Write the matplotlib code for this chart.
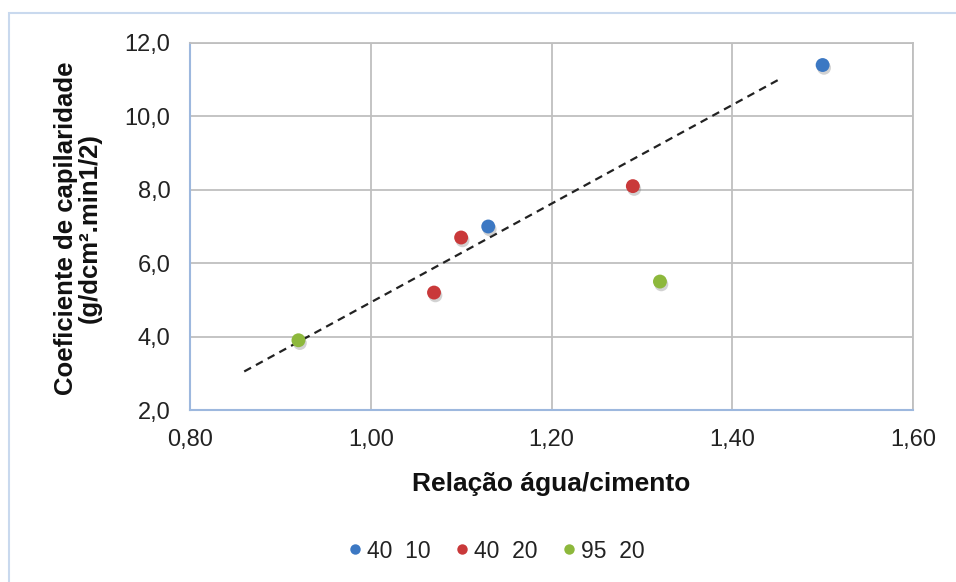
import matplotlib
matplotlib.use("Agg")
import matplotlib.pyplot as plt
import matplotlib.patheffects as pe
from matplotlib.patches import Rectangle
from matplotlib.lines import Line2D

plt.rcParams['font.family'] = ['Liberation Sans', 'DejaVu Sans']

# Water/cement ratio vs. capillarity coefficient, by mix series
series_names = ["40  10", "40  20", "95  20"]
x_40_10 = [1.13, 1.50]
y_40_10 = [7.0, 11.4]
x_40_20 = [1.07, 1.10, 1.29]
y_40_20 = [5.2, 6.7, 8.1]
x_95_20 = [0.92, 1.32]
y_95_20 = [3.9, 5.5]
colors = ["#3C78C3", "#C9393A", "#8DB83C"]

# Linear trend line endpoints
trend_x = [0.86, 1.455]
trend_y = [3.05, 11.05]

x_ticks = [0.80, 1.00, 1.20, 1.40, 1.60]
x_tick_labels = ["0,80", "1,00", "1,20", "1,40", "1,60"]
y_ticks = [2.0, 4.0, 6.0, 8.0, 10.0, 12.0]
y_tick_labels = ["2,0", "4,0", "6,0", "8,0", "10,0", "12,0"]

fig = plt.figure(figsize=(9.56, 5.82), dpi=100)
ax = fig.add_axes([190 / 956, 1 - 410 / 582, 723 / 956, 367 / 582])

# Chart-area border
fig.patches.append(Rectangle((9 / 956, -0.2), 1.2, 1.2 - 13 / 582,
                             transform=fig.transFigure, fill=False,
                             edgecolor="#C9D9EE", linewidth=1.5, zorder=0))

ax.set_xlim(0.80, 1.60)
ax.set_ylim(2.0, 12.0)
ax.set_xticks(x_ticks)
ax.set_xticklabels(x_tick_labels)
ax.set_yticks(y_ticks)
ax.set_yticklabels(y_tick_labels)
ax.tick_params(length=0, labelsize=17, colors="#222222", pad=14)
ax.grid(True, color="#BFBFBF", linewidth=1.3)
ax.set_axisbelow(True)

for side in ("top", "right"):
    ax.spines[side].set_color("#BFBFBF")
    ax.spines[side].set_linewidth(1.3)
for side in ("left", "bottom"):
    ax.spines[side].set_color("#9DB8DE")
    ax.spines[side].set_linewidth(1.5)

ax.plot(trend_x, trend_y, linestyle=(0, (3.5, 2.5)), color="#222222",
        linewidth=1.6, zorder=2)

shadow = [pe.SimplePatchShadow(offset=(1, -2), shadow_rgbFace="gray",
                               alpha=0.35),
          pe.Normal()]
handles = []
for xs, ys, c, name in zip([x_40_10, x_40_20, x_95_20],
                           [y_40_10, y_40_20, y_95_20], colors, series_names):
    sc = ax.scatter(xs, ys, s=100, color=c, edgecolors="none", zorder=3)
    sc.set_path_effects(shadow)
    handles.append(Line2D([], [], marker="o", linestyle="none",
                          markersize=7.5, markerfacecolor=c,
                          markeredgecolor="none", label=name))

ax.set_xlabel("Relação água/cimento", fontsize=19, fontweight="bold",
              color="#111111")
ax.xaxis.set_label_coords(0.5, -0.168)
ax.set_ylabel("Coeficiente de capilaridade\n(g/dcm².min1/2)", fontsize=18.5,
              fontweight="bold", color="#111111", linespacing=1.0)
ax.yaxis.set_label_coords(-0.122, 0.496)

fig.legend(handles=handles, loc="center", bbox_to_anchor=(494 / 956, 1 - 551 / 582),
           ncol=3, frameon=False, fontsize=16.5, handletextpad=0.0,
           columnspacing=0.9, handlelength=1.0, labelcolor="#222222")

fig.savefig("out.png", dpi=100)
